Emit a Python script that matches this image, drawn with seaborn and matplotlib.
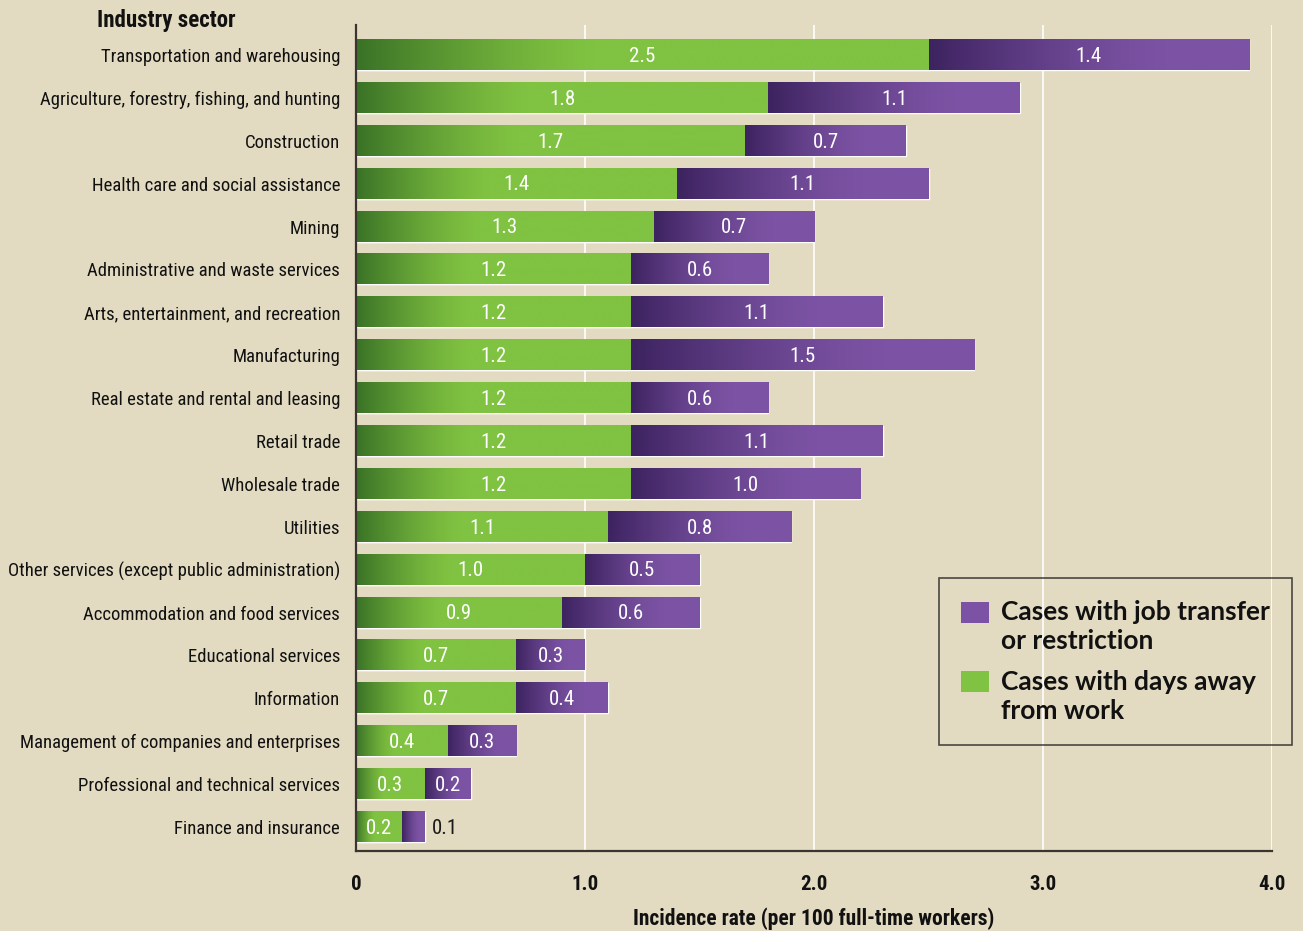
import numpy as np
import pandas as pd
import matplotlib
matplotlib.use("Agg")
import matplotlib.pyplot as plt
from matplotlib.colors import LinearSegmentedColormap
from matplotlib.patches import Patch, Rectangle
from matplotlib.legend_handler import HandlerPatch
import seaborn as sns

sectors = [
    "Transportation and warehousing",
    "Agriculture, forestry, fishing, and hunting",
    "Construction",
    "Health care and social assistance",
    "Mining",
    "Administrative and waste services",
    "Arts, entertainment, and recreation",
    "Manufacturing",
    "Real estate and rental and leasing",
    "Retail trade",
    "Wholesale trade",
    "Utilities",
    "Other services (except public administration)",
    "Accommodation and food services",
    "Educational services",
    "Information",
    "Management of companies and enterprises",
    "Professional and technical services",
    "Finance and insurance",
]
days_away = [2.5, 1.8, 1.7, 1.4, 1.3, 1.2, 1.2, 1.2, 1.2, 1.2, 1.2, 1.1, 1.0, 0.9, 0.7, 0.7, 0.4, 0.3, 0.2]
job_transfer = [1.4, 1.1, 0.7, 1.1, 0.7, 0.6, 1.1, 1.5, 0.6, 1.1, 1.0, 0.8, 0.5, 0.6, 0.3, 0.4, 0.3, 0.2, 0.1]
x_ticks = [0, 1.0, 2.0, 3.0, 4.0]
x_ticklabels = ["0", "1.0", "2.0", "3.0", "4.0"]

BG = "#e3dbc1"
GREEN_D, GREEN_L = "#3a7226", "#80c241"
PURP_D, PURP_L = "#3d2360", "#7c53a4"
AXC = "#3a3530"
NARROW = ["Liberation Sans Narrow", "DejaVu Sans Condensed", "Roboto Condensed", "DejaVu Sans"]
BOLDF = ["Lato", "Open Sans", "DejaVu Sans"]

df = pd.DataFrame({"sector": sectors, "days": days_away, "job": job_transfer})
df["total"] = df["days"] + df["job"]

sns.set_theme(style="white")
plt.rcParams["font.family"] = NARROW

fig = plt.figure(figsize=(13.03, 9.31), dpi=100, facecolor=BG)
ax = fig.add_axes([356/1303, 1-851/931, (1272-356)/1303, (851-25)/931])
ax.set_facecolor(BG)

sns.barplot(data=df, x="total", y="sector", orient="h", color=PURP_L, width=0.7,
            saturation=1, ax=ax, zorder=3)
sns.barplot(data=df, x="days", y="sector", orient="h", color=GREEN_L, width=0.7,
            saturation=1, ax=ax, zorder=4)

def grad_cmap(c1, c2, frac, n=256):
    t = np.linspace(0, 1, n)
    v = np.clip(t / frac, 0, 1)
    v = 1 - (1 - v) ** 1.4
    return v[None, :], LinearSegmentedColormap.from_list("g", [c1, c2])

n = len(sectors)
purple_patches = ax.patches[:n]
green_patches = ax.patches[n:2*n]
for pp, gp in zip(purple_patches, green_patches):
    y0 = gp.get_y(); h = gp.get_height()
    gx0, gw = gp.get_x(), gp.get_width()
    arr, cm = grad_cmap(GREEN_D, GREEN_L, 0.42)
    ax.imshow(arr, cmap=cm, vmin=0, vmax=1, aspect="auto",
              extent=[gx0, gx0 + gw, y0 + h, y0], zorder=5, interpolation="bilinear")
    px0 = gx0 + gw; pw = pp.get_width() - gw
    arr, cm = grad_cmap(PURP_D, PURP_L, 0.75)
    ax.imshow(arr, cmap=cm, vmin=0, vmax=1, aspect="auto",
              extent=[px0, px0 + pw, y0 + h, y0], zorder=5, interpolation="bilinear")

for i, (g, p) in enumerate(zip(days_away, job_transfer)):
    ax.text(g / 2, i + 0.03, f"{g:.1f}", ha="center", va="center", color="white",
            fontsize=15, zorder=7)
    if p >= 0.2:
        ax.text(g + p / 2, i + 0.03, f"{p:.1f}", ha="center", va="center", color="white",
                fontsize=15, zorder=7)
    else:
        ax.text(g + p + 0.03, i + 0.03, f"{p:.1f}", ha="left", va="center", color="#1a1a1a",
                fontsize=15, zorder=7)

ax.set_xlim(0, 4.0)
ax.set_ylim(n - 1 + 0.56, -0.7)
ax.set_xticks(x_ticks)
ax.set_xticklabels(x_ticklabels, fontsize=15, fontweight="bold")
for xv in x_ticks[1:]:
    ax.axvline(xv, color="white", lw=1.2, zorder=1)
ax.tick_params(axis="x", direction="out", length=8, width=1.5, color=AXC, pad=9, labelcolor="#111111")
ax.tick_params(axis="y", length=0, pad=11.5, labelsize=13.5, labelcolor="#111111")
for s in ["top", "right"]:
    ax.spines[s].set_visible(False)
for s in ["left", "bottom"]:
    ax.spines[s].set_color(AXC)
    ax.spines[s].set_linewidth(1.6)
    ax.spines[s].set_zorder(8)
ax.set_ylabel("")
ax.set_xlabel("Incidence rate (per 100 full-time workers)", fontsize=15.5, fontweight="bold",
              color="#111111", labelpad=10)
fig.text(97/1303, 1-20/931, "Industry sector", fontsize=16.5, fontweight="bold",
         color="#111111", ha="left", va="center")

LEG_FS = 19

def top_square(legend, orig_handle, xdescent, ydescent, width, height, fontsize):
    return Rectangle((-xdescent, -ydescent + 0.58 * fontsize), width, height)

handles = [Patch(facecolor=PURP_L, edgecolor="none"), Patch(facecolor=GREEN_L, edgecolor="none")]
leg = fig.legend(handles, ["Cases with job transfer\nor restriction", "Cases with days away\nfrom work"],
                 loc="upper left", bbox_to_anchor=(939/1303, 1-578/931), frameon=True,
                 prop={"family": BOLDF, "weight": "bold", "size": LEG_FS},
                 handlelength=1.05, handleheight=0.83, handletextpad=0.45, labelspacing=0.62,
                 borderpad=0.85, borderaxespad=0, fancybox=False,
                 handler_map={Patch: HandlerPatch(patch_func=top_square)})
leg.get_frame().set_facecolor("none")
leg.get_frame().set_edgecolor("#222222")
leg.get_frame().set_linewidth(1.2)
for t in leg.get_texts():
    t.set_color("#111111")
    t.set_linespacing(1.25)

fig.savefig("out.png", dpi=100, facecolor=BG)
